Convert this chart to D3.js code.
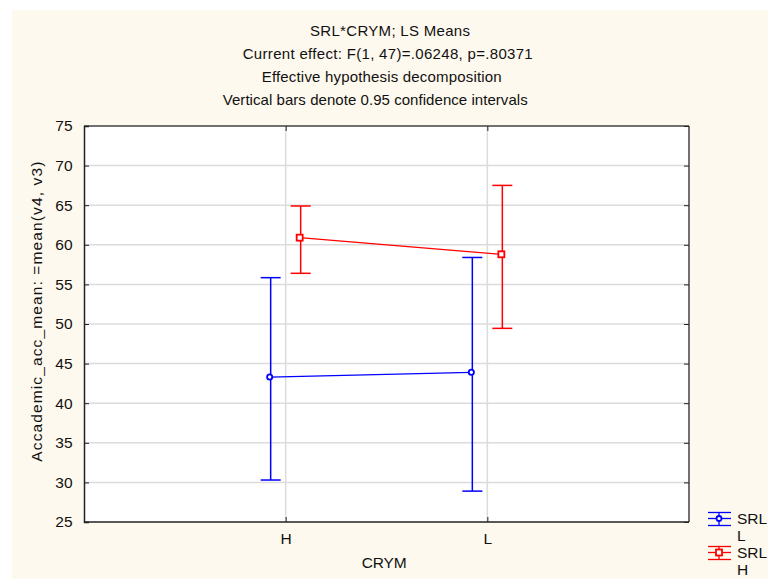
<!DOCTYPE html>
<html><head><meta charset="utf-8">
<script src="https://cdn.jsdelivr.net/npm/d3@7"></script>
<style>
html,body{margin:0;padding:0;background:#fff;}
text{font-family:"Liberation Sans",Arial,sans-serif;fill:#111;}
</style></head>
<body><svg id="c" width="768" height="579"></svg>
<script>
const categories = ["H", "L"];
const seriesNames = ["SRL L", "SRL H"];
const seriesLabels = [["SRL", "L"], ["SRL", "H"]];
const seriesColors = ["#0000ff", "#ff0000"];
const meansL = [43.3, 43.9];
const lowerL = [30.3, 28.9];
const upperL = [55.85, 58.4];
const meansH = [60.9, 58.8];
const lowerH = [56.4, 49.45];
const upperH = [64.9, 67.5];
const yTicks = [25, 30, 35, 40, 45, 50, 55, 60, 65, 70, 75];
const titleLines = ["SRL*CRYM; LS Means", "Current effect: F(1, 47)=.06248, p=.80371", "Effective hypothesis decomposition", "Vertical bars denote 0.95 confidence intervals"];
const xTitle = "CRYM";
const yTitle = "Accademic_acc_mean: =mean(v4, v3)";

// layout (not data): title line left edges and widths as seen in the original
const titleLayout = [{x: 310, w: 160}, {x: 242.7, w: 290}, {x: 261.7, w: 240}, {x: 222.7, w: 305}];

const series = [
  {name: seriesNames[0], label: seriesLabels[0], color: seriesColors[0], mean: meansL, lo: lowerL, hi: upperL, shape: "circle"},
  {name: seriesNames[1], label: seriesLabels[1], color: seriesColors[1], mean: meansH, lo: lowerH, hi: upperH, shape: "square"}
];

const svg = d3.select("#c");
const W = 768, H = 579;
const m = {left: 84, right: 689, top: 126, bottom: 522};
const axisFont = "15.5px";
const axisSpacing = "0.3px";

svg.append("rect").attr("x", 12).attr("y", 10).attr("width", W - 12).attr("height", H - 10).attr("fill", "#fef9ee");
svg.append("rect").attr("x", m.left).attr("y", m.top).attr("width", m.right - m.left).attr("height", m.bottom - m.top).attr("fill", "#fff");

const x = d3.scalePoint().domain(categories).range([m.left, m.right]).padding(1);
const dodge = d3.scalePoint().domain(seriesNames).range([-15, 15]);
const y = d3.scaleLinear().domain([25, 75]).range([m.bottom, m.top]);

// grid
svg.append("g").selectAll("line").data(yTicks.slice(1, -1)).join("line")
  .attr("x1", m.left).attr("x2", m.right).attr("y1", d => y(d)).attr("y2", d => y(d))
  .attr("stroke", "#dcdcdc").attr("stroke-width", 1.5);
svg.append("g").selectAll("line").data(categories).join("line")
  .attr("x1", d => x(d)).attr("x2", d => x(d)).attr("y1", m.top).attr("y2", m.bottom)
  .attr("stroke", "#dcdcdc").attr("stroke-width", 1.5);

// frame top/right
svg.append("line").attr("x1", m.left).attr("x2", m.right).attr("y1", m.top).attr("y2", m.top).attr("stroke", "#707070").attr("stroke-width", 2);
svg.append("line").attr("x1", m.right).attr("x2", m.right).attr("y1", m.top).attr("y2", m.bottom).attr("stroke", "#707070").attr("stroke-width", 2);

// axes
const yAxis = svg.append("g").attr("transform", `translate(${m.left},0)`)
  .call(d3.axisLeft(y).tickValues(yTicks).tickSize(-5).tickPadding(11).tickFormat(d3.format("d")));
yAxis.select(".domain").attr("stroke", "#222").attr("stroke-width", 1.5);
yAxis.selectAll(".tick line").attr("stroke", "#222");
yAxis.selectAll("text").style("font-size", axisFont).style("letter-spacing", axisSpacing).attr("fill", "#111");

const yAxisR = svg.append("g").attr("transform", `translate(${m.right},0)`)
  .call(d3.axisRight(y).tickValues(yTicks).tickSize(-5).tickFormat(""));
yAxisR.select(".domain").remove();
yAxisR.selectAll(".tick line").attr("stroke", "#222");

const xAxis = svg.append("g").attr("transform", `translate(0,${m.bottom})`)
  .call(d3.axisBottom(x).tickSize(-5).tickPadding(11));
xAxis.select(".domain").attr("stroke", "#222").attr("stroke-width", 1.5).attr("d", `M${m.left},0H${m.right}`);
xAxis.selectAll(".tick line").attr("stroke", "#222");
xAxis.selectAll("text").style("font-size", axisFont).attr("fill", "#111");

const xAxisT = svg.append("g").attr("transform", `translate(0,${m.top})`)
  .call(d3.axisTop(x).tickSize(-5).tickFormat(""));
xAxisT.select(".domain").remove();
xAxisT.selectAll(".tick line").attr("stroke", "#222");

// titles
svg.append("g").selectAll("text").data(titleLines).join("text")
  .attr("x", (d, i) => titleLayout[i].x).attr("y", (d, i) => 36 + i * 23)
  .attr("textLength", (d, i) => titleLayout[i].w).attr("lengthAdjust", "spacing")
  .style("font-size", "15px").text(d => d);
svg.append("text").attr("x", 361.7).attr("y", 568).attr("textLength", 45).attr("lengthAdjust", "spacing")
  .style("font-size", axisFont).text(xTitle);
svg.append("text").attr("transform", "translate(42,461.7) rotate(-90)").attr("textLength", 300).attr("lengthAdjust", "spacing")
  .style("font-size", axisFont).text(yTitle);

// series
const capW = 10;
series.forEach(s => {
  const px = (i) => x(categories[i]) + dodge(s.name);
  const g = svg.append("g");
  g.append("path").datum(s.mean).attr("fill", "none").attr("stroke", s.color).attr("stroke-width", 1.2)
    .attr("d", d3.line().x((d, i) => px(i) - 1).y(d => y(d)));
  categories.forEach((c, i) => {
    g.append("line").attr("x1", px(i)).attr("x2", px(i)).attr("y1", y(s.lo[i])).attr("y2", y(s.hi[i])).attr("stroke", s.color).attr("stroke-width", 1.5);
    [s.lo[i], s.hi[i]].forEach(v => {
      g.append("line").attr("x1", px(i) - capW).attr("x2", px(i) + capW).attr("y1", y(v)).attr("y2", y(v)).attr("stroke", s.color).attr("stroke-width", 1.5);
    });
    if (s.shape === "circle") {
      g.append("circle").attr("cx", px(i) - 1).attr("cy", y(s.mean[i])).attr("r", 2.6).attr("fill", "#fff").attr("stroke", s.color).attr("stroke-width", 1.8);
    } else {
      g.append("rect").attr("x", px(i) - 1 - 3).attr("y", y(s.mean[i]) - 3).attr("width", 6).attr("height", 6).attr("fill", "#fff").attr("stroke", s.color).attr("stroke-width", 1.8);
    }
  });
});

// legend
const lg = svg.append("g");
series.forEach((s, k) => {
  const cy = 518.5 + k * 34;
  const lx0 = 708, lx1 = 731, lxm = 719;
  lg.append("line").attr("x1", lx0).attr("x2", lx1).attr("y1", cy - 6).attr("y2", cy - 6).attr("stroke", s.color).attr("stroke-width", 1.3);
  lg.append("line").attr("x1", lx0).attr("x2", lx1).attr("y1", cy).attr("y2", cy).attr("stroke", s.color).attr("stroke-width", 1.3);
  lg.append("line").attr("x1", lx0).attr("x2", lx1).attr("y1", cy + 7).attr("y2", cy + 7).attr("stroke", s.color).attr("stroke-width", 1.3);
  lg.append("line").attr("x1", lxm).attr("x2", lxm).attr("y1", cy - 6).attr("y2", cy + 7).attr("stroke", s.color).attr("stroke-width", 1.3);
  if (s.shape === "circle") {
    lg.append("circle").attr("cx", lxm).attr("cy", cy).attr("r", 2.5).attr("fill", "#fff").attr("stroke", s.color).attr("stroke-width", 1.8);
  } else {
    lg.append("rect").attr("x", lxm - 3).attr("y", cy - 3).attr("width", 6).attr("height", 6).attr("fill", "#fff").attr("stroke", s.color).attr("stroke-width", 1.8);
  }
  lg.append("text").attr("x", 737).attr("y", cy + 5).style("font-size", axisFont).text(s.label[0]);
  lg.append("text").attr("x", 737).attr("y", cy + 22).style("font-size", axisFont).text(s.label[1]);
});
</script>
</body></html>
